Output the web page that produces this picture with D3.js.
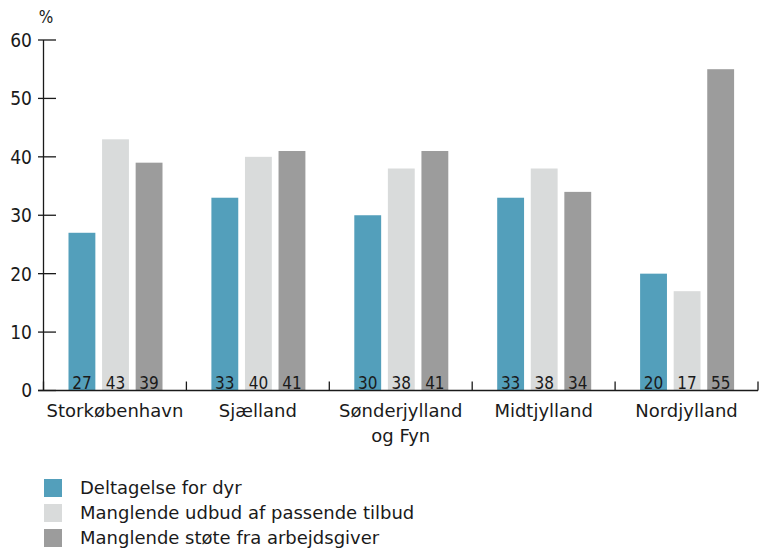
<!DOCTYPE html>
<html>
<head>
<meta charset="utf-8">
<script src="https://d3js.org/d3.v7.min.js"></script>
<style>
  body { margin: 0; background: #fff; }
  text { font-family: "DejaVu Sans Condensed", "DejaVu Sans", sans-serif; fill: #1a1a1a; }
  .wide { font-family: "DejaVu Sans", sans-serif; }
  .axis line, .axis path { stroke: #1a1a1a; stroke-width: 1.3px; }
</style>
</head>
<body>
<div id="chart"></div>
<script>
// data
var regions = [["Storkøbenhavn"], ["Sjælland"], ["Sønderjylland", "og Fyn"], ["Midtjylland"], ["Nordjylland"]];
var seriesNames = ["Deltagelse for dyr", "Manglende udbud af passende tilbud", "Manglende støte fra arbejdsgiver"];
var deltagelse = [27, 33, 30, 33, 20];
var udbud = [43, 40, 38, 38, 17];
var stoette = [39, 41, 41, 34, 55];
var yTicks = [0, 10, 20, 30, 40, 50, 60];
var colors = ["#539fbb", "#d9dbdb", "#9c9c9c"];

var W = 759, H = 550;
var svg = d3.select('#chart').append('svg').attr('width', W).attr('height', H);

var y = d3.scaleLinear().domain([0, 60]).range([390.5, 40]);
var x = d3.scaleBand().domain(d3.range(regions.length)).range([43.5, 758]).padding(0);
var xs = d3.scaleBand().domain([0, 1, 2]).range([25, 119]).paddingInner(0.2);

var series = [deltagelse, udbud, stoette];

// bars
var groups = svg.append('g').selectAll('g')
  .data(regions.map(function (r, i) { return i; }))
  .enter().append('g')
  .attr('transform', function (i) { return 'translate(' + x(i) + ',0)'; });

groups.selectAll('rect')
  .data(function (i) { return series.map(function (s, k) { return {k: k, v: s[i]}; }); })
  .enter().append('rect')
  .attr('x', function (d) { return xs(d.k); })
  .attr('width', xs.bandwidth())
  .attr('y', function (d) { return y(d.v); })
  .attr('height', function (d) { return y(0) - y(d.v); })
  .attr('fill', function (d) { return colors[d.k]; });

groups.selectAll('text.val')
  .data(function (i) { return series.map(function (s, k) { return {k: k, v: s[i]}; }); })
  .enter().append('text')
  .attr('class', 'val')
  .attr('x', function (d) { return xs(d.k) + xs.bandwidth() / 2; })
  .attr('y', y(0) - 2)
  .attr('text-anchor', 'middle')
  .style('font-size', '17px')
  .text(function (d) { return d.v; });

// y axis
var yAxis = svg.append('g').attr('class', 'axis');
yAxis.append('line').attr('x1', 43.5).attr('x2', 43.5).attr('y1', y(60)).attr('y2', y(0));
yAxis.selectAll('line.tick').data(yTicks).enter().append('line')
  .attr('x1', 38).attr('x2', 56)
  .attr('y1', function (d) { return y(d); }).attr('y2', function (d) { return y(d); });
yAxis.selectAll('text').data(yTicks).enter().append('text')
  .attr('x', 32).attr('y', function (d) { return y(d); })
  .attr('dy', '0.36em')
  .attr('text-anchor', 'end')
  .style('font-size', '19px')
  .text(function (d) { return d; });
svg.append('text').attr('x', 46).attr('y', 23).attr('text-anchor', 'middle')
  .style('font-size', '17px').text('%');

// x axis
var xAxis = svg.append('g').attr('class', 'axis');
xAxis.append('line').attr('x1', 38).attr('x2', 758).attr('y1', y(0)).attr('y2', y(0));
xAxis.selectAll('line.div').data(d3.range(regions.length + 1)).enter().append('line')
  .attr('x1', function (i) { return i < regions.length ? x(i) : x.range()[1]; })
  .attr('x2', function (i) { return i < regions.length ? x(i) : x.range()[1]; })
  .attr('y1', y(0) - 9).attr('y2', y(0));

var labels = svg.append('g').selectAll('text').data(regions).enter().append('text')
  .attr('class', 'wide')
  .attr('x', function (r, i) { return x(i) + x.bandwidth() / 2; })
  .attr('y', 417)
  .attr('text-anchor', 'middle')
  .style('font-size', '18px');
labels.selectAll('tspan').data(function (r) { return r; }).enter().append('tspan')
  .attr('x', function () { return d3.select(this.parentNode).attr('x'); })
  .attr('dy', function (t, j) { return j === 0 ? 0 : 25; })
  .text(function (t) { return t; });

// legend
var legend = svg.append('g').selectAll('g').data(seriesNames).enter().append('g')
  .attr('transform', function (d, i) { return 'translate(44,' + (479 + i * 25) + ')'; });
legend.append('rect').attr('width', 18).attr('height', 18)
  .attr('fill', function (d, i) { return colors[i]; });
legend.append('text').attr('class', 'wide').attr('x', 36).attr('y', 14.5)
  .style('font-size', '18px').text(function (d) { return d; });
</script>
</body>
</html>
